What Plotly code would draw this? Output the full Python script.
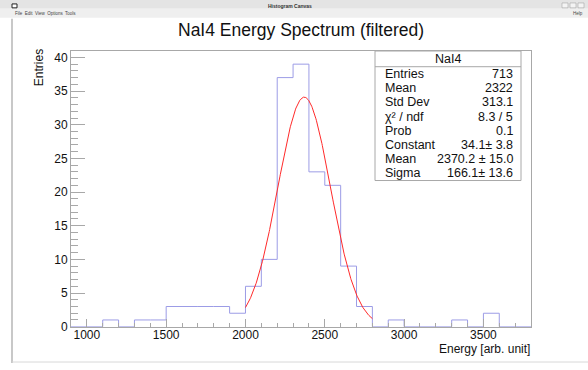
import numpy as np
import plotly.graph_objects as go

W, H = 588, 370

# Histogram: 100-unit bins from 900 to 3800
bin_low = 900
bin_width = 100
counts = [0, 0, 1, 0, 1, 1, 3, 3, 3, 3, 2, 6, 10, 37, 39, 23, 21, 9, 3, 0,
          1, 0, 0, 0, 1, 0, 2, 0, 0]

# Gaussian fit result
fit_const, fit_mean, fit_sigma = 34.1, 2370.2, 166.1
fit_range = (2000, 2800)

# Statistics box rows
stat_labels = ["Entries", "Mean", "Std Dev", "χ² / ndf", "Prob",
               "Constant", "Mean", "Sigma"]
stat_values = ["713", "2322", "313.1", "8.3 / 5", "0.1",
               "34.1± 3.8", "2370.2 ± 15.0", "166.1± 13.6"]

FONT = "Liberation Sans, Arial, Helvetica, sans-serif"


def px(x):
    return x / W


def py(y):
    return 1 - y / H


def label(text, x, y, size=12, xanchor="center", color="#111111", **kw):
    return dict(text=text, x=px(x), y=py(y), xref="paper", yref="paper",
                xanchor=xanchor, yanchor="middle", showarrow=False,
                font=dict(size=size, color=color), **kw)


edges = bin_low + bin_width * np.arange(len(counts) + 1)
step_x = list(edges)
step_y = list(counts) + [counts[-1]]

fx = np.linspace(fit_range[0], fit_range[1], 300)
fy = fit_const * np.exp(-0.5 * ((fx - fit_mean) / fit_sigma) ** 2)

fig = go.Figure()
fig.add_trace(go.Scatter(x=step_x, y=step_y, mode="lines", line_shape="hv",
                         line=dict(color="#9c9ce6", width=1), hoverinfo="skip"))
fig.add_trace(go.Scatter(x=fx, y=fy, mode="lines",
                         line=dict(color="#ff2a2a", width=1), hoverinfo="skip"))

frame_col = "#a8a8a8"
fig.update_layout(
    width=W, height=H, autosize=False, margin=dict(l=0, r=0, t=0, b=0),
    paper_bgcolor="white", plot_bgcolor="white", showlegend=False,
    font=dict(family=FONT, color="#111111", size=12),
    xaxis=dict(domain=[px(71), px(531)], range=[900, 3800],
               showline=True, mirror=True, linecolor=frame_col, linewidth=1,
               showgrid=False, zeroline=False,
               ticks="inside", ticklen=8, tickcolor=frame_col, dtick=500,
               tick0=1000, tickfont=dict(size=12), ticklabelstandoff=-3,
               minor=dict(ticks="inside", ticklen=4, dtick=100,
                          tickcolor=frame_col, showgrid=False)),
    yaxis=dict(domain=[py(333), py(52)], range=[0, 40.95],
               showline=True, mirror=True, linecolor=frame_col, linewidth=1,
               showgrid=False, zeroline=False,
               ticks="inside", ticklen=14, tickcolor=frame_col, dtick=5,
               tickfont=dict(size=12),
               minor=dict(ticks="inside", ticklen=7, dtick=1,
                          tickcolor=frame_col, showgrid=False)),
)

shapes = []
annotations = []

# Window decoration: title bar, menu bar, borders
shapes.append(dict(type="rect", xref="paper", yref="paper",
                   x0=0, x1=1, y0=py(9), y1=1, fillcolor="#e4e4e4",
                   line=dict(width=0), layer="below"))
shapes.append(dict(type="rect", xref="paper", yref="paper",
                   x0=0, x1=1, y0=py(18), y1=py(9), fillcolor="#efefef",
                   line=dict(width=0), layer="below"))
shapes.append(dict(type="rect", xref="paper", yref="paper",
                   x0=px(12), x1=px(17), y0=py(8), y1=py(4),
                   fillcolor="white", line=dict(color="#222", width=1)))
for bx in (562, 570, 578):
    shapes.append(dict(type="rect", xref="paper", yref="paper",
                       x0=px(bx), x1=px(bx + 6), y0=py(8), y1=py(3),
                       fillcolor="#f4f4f4", line=dict(color="#999", width=0.5)))
shapes.append(dict(type="line", xref="paper", yref="paper",
                   x0=px(12), x1=px(12), y0=py(370), y1=py(19),
                   line=dict(color="#c8c8c8", width=2)))
shapes.append(dict(type="line", xref="paper", yref="paper",
                   x0=px(12), x1=1, y0=py(369), y1=py(369),
                   line=dict(color="#d8d8d8", width=1)))
annotations.append(label("<b>Histogram Canvas</b>", 290, 6, size=5, color="#333"))
annotations.append(label("File  Edit  View  Options  Tools", 13, 13.5, size=4.5,
                         xanchor="left", color="#444"))
annotations.append(label("Help", 585, 13.5, size=4.5, xanchor="right",
                         color="#444"))

# Title and axis titles
annotations.append(label("NaI4 Energy Spectrum (filtered)", 301, 31, size=17.5))
annotations.append(label("Entries", 39, 69.5, textangle=-90))
annotations.append(label("Energy [arb. unit]", 531, 356, xanchor="right",
                         borderpad=0))

# Statistics box
bx0, bx1, by0, by1 = 375, 521, 52, 184
head = 68
shapes.append(dict(type="rect", xref="paper", yref="paper",
                   x0=px(bx0), x1=px(bx1), y0=py(by1), y1=py(by0),
                   fillcolor="white", line=dict(color=frame_col, width=1)))
shapes.append(dict(type="line", xref="paper", yref="paper",
                   x0=px(bx0), x1=px(bx1), y0=py(head), y1=py(head),
                   line=dict(color=frame_col, width=1)))
annotations.append(label("NaI4", (bx0 + bx1) / 2, 60.5, size=12.5))
row_h = (by1 - head) / len(stat_labels)
for i, (lab, val) in enumerate(zip(stat_labels, stat_values)):
    yc = head + row_h * (i + 0.5)
    annotations.append(label(lab, 383, yc, size=12.5, xanchor="left"))
    annotations.append(label(val, 515, yc, size=12.5, xanchor="right"))

fig.update_layout(shapes=shapes, annotations=annotations)
fig.write_html("out.html", config={"responsive": False})
